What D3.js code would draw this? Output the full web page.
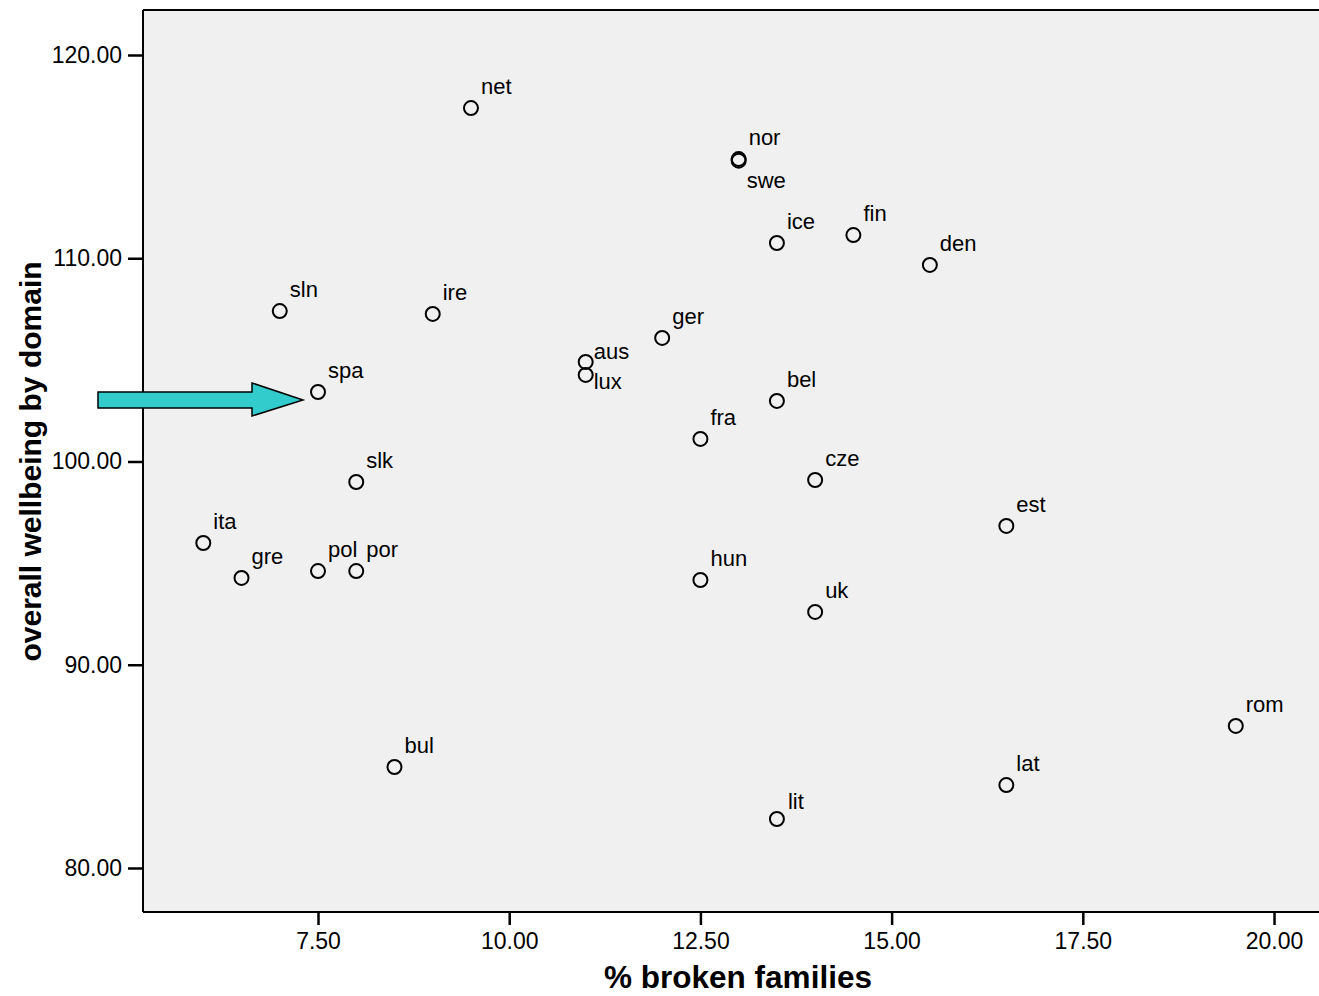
<!DOCTYPE html>
<html>
<head>
<meta charset="utf-8">
<script src="https://cdn.jsdelivr.net/npm/d3@7"></script>
<style>
  html, body { margin: 0; padding: 0; background: #ffffff; }
  svg { display: block; }
  text { font-family: "Liberation Sans", Arial, sans-serif; fill: #000; }
</style>
</head>
<body>
<svg id="chart" width="1319" height="996"></svg>
<script>
// ---- Data ----
const countries = ["net","nor","swe","ice","fin","den","sln","ire","ger","aus","lux","spa","bel","fra","cze","slk","est","ita","gre","pol","por","hun","uk","rom","bul","lat","lit"];
const brokenFamilies = [9.5,13.0,13.0,13.5,14.5,15.5,7.0,9.0,12.0,11.0,11.0,7.5,13.5,12.5,14.0,8.0,16.5,6.0,6.5,7.5,8.0,12.5,14.0,19.5,8.5,16.5,13.5];
const wellbeing = [117.39,114.88,114.80,110.75,111.14,109.67,107.40,107.26,106.08,104.90,104.26,103.42,102.98,101.11,99.09,98.99,96.83,95.99,94.27,94.61,94.61,94.17,92.60,86.99,84.97,84.08,82.41];
const xTicks = [7.5, 10, 12.5, 15, 17.5, 20];
const yTicks = [80, 90, 100, 110, 120];
const xTitle = "% broken families";
const yTitle = "overall wellbeing by domain";
const highlighted = "spa";

// label placement (dx, dy relative to point) — default and exceptions
const labelOffsets = { aus: [8, -3], lux: [8, 14], swe: [8, 27], lit: [11, -10] };

const points = countries.map((c, i) => ({ name: c, x: brokenFamilies[i], y: wellbeing[i] }));

// ---- Layout ----
const svg = d3.select("#chart");
const pLeft = 143, pRight = 1319, pTop = 10, pBottom = 912;

const x = d3.scaleLinear().domain([5.2118, 20.588]).range([pLeft, pRight]);
const y = d3.scaleLinear().domain([77.835, 122.214]).range([pBottom, pTop]);

// plot background
svg.append("rect")
  .attr("x", pLeft).attr("y", pTop)
  .attr("width", pRight - pLeft).attr("height", pBottom - pTop)
  .attr("fill", "#f0f0f0");

// top frame line
svg.append("line")
  .attr("x1", pLeft).attr("x2", pRight)
  .attr("y1", pTop).attr("y2", pTop)
  .attr("stroke", "#000").attr("stroke-width", 2);

// axes
const fmt = d3.format(".2f");
const xAxis = svg.append("g")
  .attr("transform", `translate(0,${pBottom})`)
  .call(d3.axisBottom(x).tickValues(xTicks).tickFormat(fmt).tickSize(13).tickPadding(8).tickSizeOuter(0));
const yAxis = svg.append("g")
  .attr("transform", `translate(${pLeft},0)`)
  .call(d3.axisLeft(y).tickValues(yTicks).tickFormat(fmt).tickSize(15).tickPadding(6).tickSizeOuter(0));

[xAxis, yAxis].forEach(g => {
  g.select(".domain").attr("stroke", "#000").attr("stroke-width", 2);
  g.selectAll(".tick line").attr("stroke", "#000").attr("stroke-width", 2.5);
  g.selectAll(".tick text")
    .attr("font-family", "'Liberation Sans', Arial, sans-serif")
    .attr("font-size", 23).attr("fill", "#000");
});
xAxis.select(".domain").attr("d", `M${pLeft},0H${pRight}`);
yAxis.select(".domain").attr("d", `M0,${pTop}V${pBottom}`);

// axis titles
svg.append("text")
  .attr("x", (pLeft + pRight) / 2 + 7)
  .attr("y", 988)
  .attr("text-anchor", "middle")
  .attr("font-size", 31.5).attr("font-weight", "bold")
  .text(xTitle);

svg.append("text")
  .attr("transform", `translate(41,${y(100)}) rotate(-90)`)
  .attr("text-anchor", "middle")
  .attr("font-size", 30).attr("font-weight", "bold")
  .text(yTitle);

// arrow pointing at highlighted point
const hp = points.find(p => p.name === highlighted);
const tipX = x(hp.x) - 15, tipY = y(hp.y) + 8;
const arrowPath = d3.path();
arrowPath.moveTo(tipX - 205, tipY - 8);
arrowPath.lineTo(tipX - 51, tipY - 8);
arrowPath.lineTo(tipX - 51, tipY - 17);
arrowPath.lineTo(tipX, tipY);
arrowPath.lineTo(tipX - 51, tipY + 16);
arrowPath.lineTo(tipX - 51, tipY + 8);
arrowPath.lineTo(tipX - 205, tipY + 8);
arrowPath.closePath();
svg.append("path")
  .attr("d", arrowPath.toString())
  .attr("fill", "#33cccc")
  .attr("stroke", "#000")
  .attr("stroke-width", 1.5)
  .attr("stroke-linejoin", "miter");

// points
const g = svg.append("g");
g.selectAll("circle")
  .data(points)
  .join("circle")
  .attr("cx", d => x(d.x))
  .attr("cy", d => y(d.y))
  .attr("r", 7)
  .attr("fill", "none")
  .attr("stroke", "#000")
  .attr("stroke-width", 2);

// labels
g.selectAll("text.lbl")
  .data(points)
  .join("text")
  .attr("class", "lbl")
  .attr("x", d => x(d.x) + (labelOffsets[d.name] ? labelOffsets[d.name][0] : 10))
  .attr("y", d => y(d.y) + (labelOffsets[d.name] ? labelOffsets[d.name][1] : -14))
  .attr("font-size", 22)
  .text(d => d.name);
</script>
</body>
</html>
